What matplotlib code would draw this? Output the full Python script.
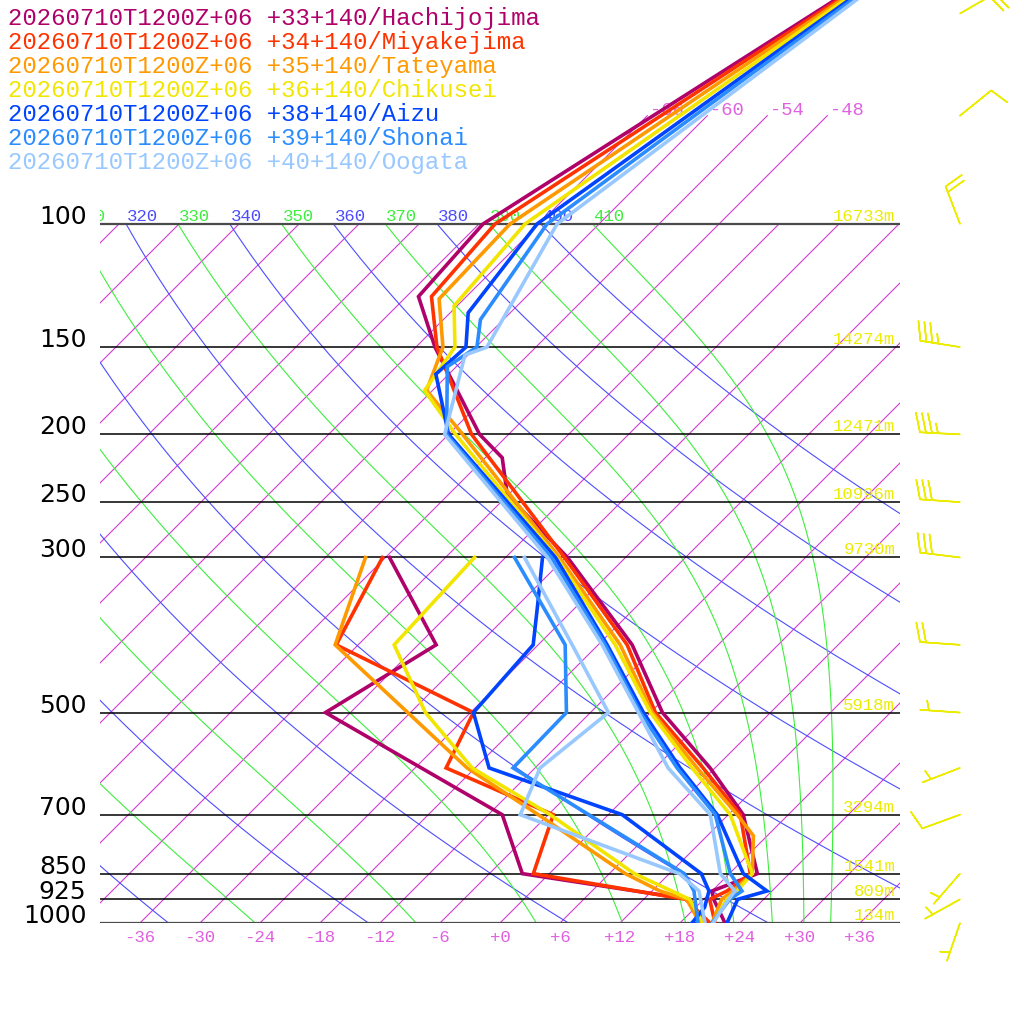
import numpy as np
import matplotlib.pyplot as plt
from matplotlib import transforms

MONO = 'Liberation Mono'

RUN = '20260710T1200Z+06'
STATIONS = ['Hachijojima', 'Miyakejima', 'Tateyama', 'Chikusei', 'Aizu', 'Shonai', 'Oogata']
POSITIONS = ['+33+140', '+34+140', '+35+140', '+36+140', '+38+140', '+39+140', '+40+140']
COLORS = ['#b0006a', '#ff3300', '#ff9900', '#f2e600', '#0044ff', '#2b8cff', '#99c8ff']

# temperature profiles: pressure (hPa) / temperature (degC)
hachijojima_tp = [1000, 950, 925, 900, 850, 700, 600, 500, 400, 300, 244, 216, 200, 150, 127, 100, 47]
hachijojima_t = [22.5, 20.2, 19.0, 18.0, 20.8, 13.5, 5.5, -4.8, -14.6, -29.8, -42.1, -46.3, -50.9, -64.1, -70.8, -71.6, -58.5]
miyakejima_tp = [1000, 925, 900, 850, 700, 600, 500, 400, 300, 200, 150, 127, 100, 47]
miyakejima_t = [21.5, 18.6, 19.5, 20.1, 13.2, 4.8, -5.5, -15.1, -30.1, -51.7, -63.9, -69.5, -70.4, -58.2]
tateyama_tp = [1000, 925, 900, 850, 750, 700, 600, 500, 400, 300, 200, 173, 150, 128, 100, 47]
tateyama_t = [21.2, 19.8, 20.1, 20.3, 16.6, 12.9, 4.2, -5.8, -15.8, -30.6, -52.6, -60.6, -63.3, -68.5, -68.9, -57.9]
chikusei_tp = [1000, 925, 900, 850, 700, 600, 500, 400, 300, 200, 173, 150, 131, 100, 47]
chikusei_t = [21.3, 20.3, 20.5, 20.3, 12.2, 3.7, -6.0, -16.3, -30.9, -53.3, -60.8, -62.1, -66.3, -67.4, -57.6]
aizu_tp = [1000, 925, 900, 850, 700, 600, 500, 400, 300, 200, 164, 150, 134, 100, 47]
aizu_t = [22.7, 21.4, 23.5, 19.4, 10.9, 2.5, -6.7, -17.1, -31.0, -54.0, -61.3, -61.0, -64.2, -66.2, -57.2]
shonai_tp = [1000, 925, 900, 850, 700, 600, 500, 400, 300, 200, 160, 150, 137, 100, 47]
shonai_t = [21.2, 20.6, 21.0, 18.1, 10.7, 2.2, -7.0, -17.3, -31.4, -54.2, -60.9, -59.9, -62.3, -65.2, -56.9]
oogata_tp = [1000, 925, 900, 850, 700, 600, 500, 400, 300, 200, 154, 150, 100, 47]
oogata_t = [21.3, 20.5, 20.3, 17.1, 10.2, 1.3, -7.2, -17.6, -31.8, -54.4, -60.3, -58.9, -64.2, -56.5]

# dewpoint profiles: pressure (hPa) / dewpoint (degC)
hachijojima_dp = [1000, 925, 850, 700, 500, 400, 300]
hachijojima_td = [20.5, 16.6, -2.7, -10.6, -38.5, -34.2, -47.6]
miyakejima_dp = [1000, 925, 850, 700, 600, 500, 400, 300]
miyakejima_td = [21.0, 16.2, -1.6, -5.5, -20.9, -23.7, -44.2, -48.3]
tateyama_dp = [1000, 925, 900, 850, 700, 600, 400, 300]
tateyama_td = [20.0, 16.3, 12.8, 7.6, -7.0, -18.8, -44.3, -50.0]
chikusei_dp = [1000, 925, 850, 700, 600, 500, 400, 300]
chikusei_td = [20.3, 16.6, 8.5, -5.8, -18.3, -28.5, -38.4, -39.1]
aizu_dp = [1000, 950, 900, 850, 700, 600, 500, 400, 350, 300]
aizu_td = [19.2, 18.9, 17.7, 15.2, 1.4, -16.6, -23.7, -24.5, -28.1, -32.3]
shonai_dp = [1000, 900, 850, 600, 500, 400, 300]
shonai_td = [19.8, 16.2, 13.5, -14.2, -14.4, -21.3, -35.1]
oogata_dp = [1000, 900, 850, 700, 600, 500, 400, 300]
oogata_td = [20.5, 16.7, 13.0, -8.8, -11.5, -10.2, -20.6, -34.1]

# standard levels with heights (m)
LEVELS = [100, 150, 200, 250, 300, 500, 700, 850, 925, 1000]
HEIGHTS = [16733, 14274, 12471, 10996, 9730, 5918, 3294, 1541, 809, 134]

# winds
WIND_P = [50, 70, 100, 150, 200, 250, 300, 400, 500, 600, 700, 850, 925, 1000]
WIND_DIR = [60, 51, 339, 279, 273, 274, 277, 274, 274, 249, 250, 221, 241, 199]
WIND_KT = [20, 10, 20, 35, 35, 30, 30, 20, 5, 5, 10, 5, 5, 5]

TEMP = [(hachijojima_tp, hachijojima_t), (miyakejima_tp, miyakejima_t), (tateyama_tp, tateyama_t),
        (chikusei_tp, chikusei_t), (aizu_tp, aizu_t), (shonai_tp, shonai_t), (oogata_tp, oogata_t)]
DEW = [(hachijojima_dp, hachijojima_td), (miyakejima_dp, miyakejima_td), (tateyama_dp, tateyama_td),
       (chikusei_dp, chikusei_td), (aizu_dp, aizu_td), (shonai_dp, shonai_td), (oogata_dp, oogata_td)]

# thermodynamics for background lines
RD, CP, LV, EPS = 287.04, 1005.7, 2.501e6, 0.622
KAPPA = RD / CP


def moist_lapse(t, p):
    es = 6.112 * np.exp(17.67 * (t - 273.15) / (t - 29.65))
    rs = EPS * es / (p - es)
    return (RD * t + LV * rs) / (p * (CP + LV * LV * rs * EPS / (RD * t * t)))


def pseudo_adiabat(theta100, plev):
    t = theta100 * 0.1 ** KAPPA
    out = [t]
    for p0, p1 in zip(plev[:-1], plev[1:]):
        dp = p1 - p0
        k1 = moist_lapse(t, p0)
        k2 = moist_lapse(t + k1 * dp, p1)
        t = t + 0.5 * (k1 + k2) * dp
        out.append(t)
    return np.array(out) - 273.15


BLUE, GREEN, MAGENTA = '#4d4dff', '#3dee3d', '#d23cd2'
LABEL_PINK = '#e060e0'
YELLOW = '#ecec00'

fig = plt.figure(figsize=(10.24, 10.24), dpi=100)
ax = fig.add_axes([100 / 1024, 101 / 1024, 800 / 1024, 923 / 1024])
ax.set_axis_off()
ax.set_yscale('log')
ax.set_xlim(-40, 40)
ax.set_ylim(1000, 47.82)
ax.autoscale(False)

y0 = ax.transAxes.transform((0, 0))[1]
skew = transforms.Affine2D().translate(0, -y0).skew_deg(45, 0).translate(0, y0)
trans = ax.transData + skew

plev = np.linspace(100, 1000, 451)

# isotherms
for T in range(-120, 42, 6):
    ptop = 70 if -66 <= T <= -48 else 100
    ax.plot([T, T], [1000, ptop], color=MAGENTA, lw=0.8, transform=trans, zorder=1)
for T in [-66, -60, -54, -48]:
    ax.text(T - 0.3, 68.8, f'{T:d}', color=LABEL_PINK, fontsize=13.5, family=MONO,
            ha='left', va='center', transform=trans, zorder=1)

# dry adiabats
for th in range(240, 401, 20):
    ax.plot(th * (plev / 1000) ** KAPPA - 273.15, plev, color=BLUE, lw=0.8,
            transform=trans, zorder=1)
# pseudo adiabats
for th in range(250, 411, 20):
    ax.plot(pseudo_adiabat(th, plev), plev, color=GREEN, lw=0.8, transform=trans, zorder=1)
for th in range(310, 411, 10):
    t100 = th * 0.1 ** KAPPA - 273.15
    ax.text(t100 + 0.1, 100, str(th), color=BLUE if th % 20 == 0 else GREEN,
            fontsize=12.5, family=MONO, ha='left', va='bottom', transform=trans,
            clip_on=True, zorder=1)

# isobars
for p, h in zip(LEVELS, HEIGHTS):
    edge = p in (100, 1000)
    ax.axhline(p, color='#4a4a4a' if edge else 'black', lw=1.6 if edge else 1.1, zorder=2)
    ax.text(-0.017, p, str(p), fontsize=18, color='black', ha='right', va='baseline',
            transform=ax.get_yaxis_transform())
    ax.text(0.994, p, f'{h}m', fontsize=12.5, family=MONO, color=YELLOW, ha='right',
            va='bottom', transform=ax.get_yaxis_transform(), zorder=2)

for T in range(-36, 37, 6):
    ax.text(T, -0.016, f'{T:+d}', fontsize=12.5, family=MONO, color=LABEL_PINK,
            ha='center', va='center', transform=ax.get_xaxis_transform())

# profiles
for (tp, t), (dp, td), c in zip(TEMP, DEW, COLORS):
    ax.plot(td, dp, color=c, lw=2.6, transform=trans, zorder=4, solid_joinstyle='miter')
    ax.plot(t, tp, color=c, lw=2.6, transform=trans, zorder=4, solid_joinstyle='miter')

# wind barbs (knots)
wd = np.deg2rad(WIND_DIR)
spd = np.array(WIND_KT, dtype=float)
u = -spd * np.sin(wd)
v = -spd * np.cos(wd)
ax.barbs(np.full(len(WIND_P), 1.075), WIND_P, u, v, transform=ax.get_yaxis_transform(),
         length=7.6, barbcolor=YELLOW, flagcolor=YELLOW, linewidth=1.1, clip_on=False,
         sizes=dict(height=0.48, spacing=0.15, emptybarb=0.0), zorder=5)

# header lines
for i, (name, pos, c) in enumerate(zip(STATIONS, POSITIONS, COLORS)):
    fig.text(8 / 1024, 1 - (25 + 24 * i) / 1024, f'{RUN} {pos}/{name}', color=c,
             fontsize=17.3, family=MONO, va='baseline', ha='left')

fig.savefig('out.png', dpi=100, facecolor='white')
